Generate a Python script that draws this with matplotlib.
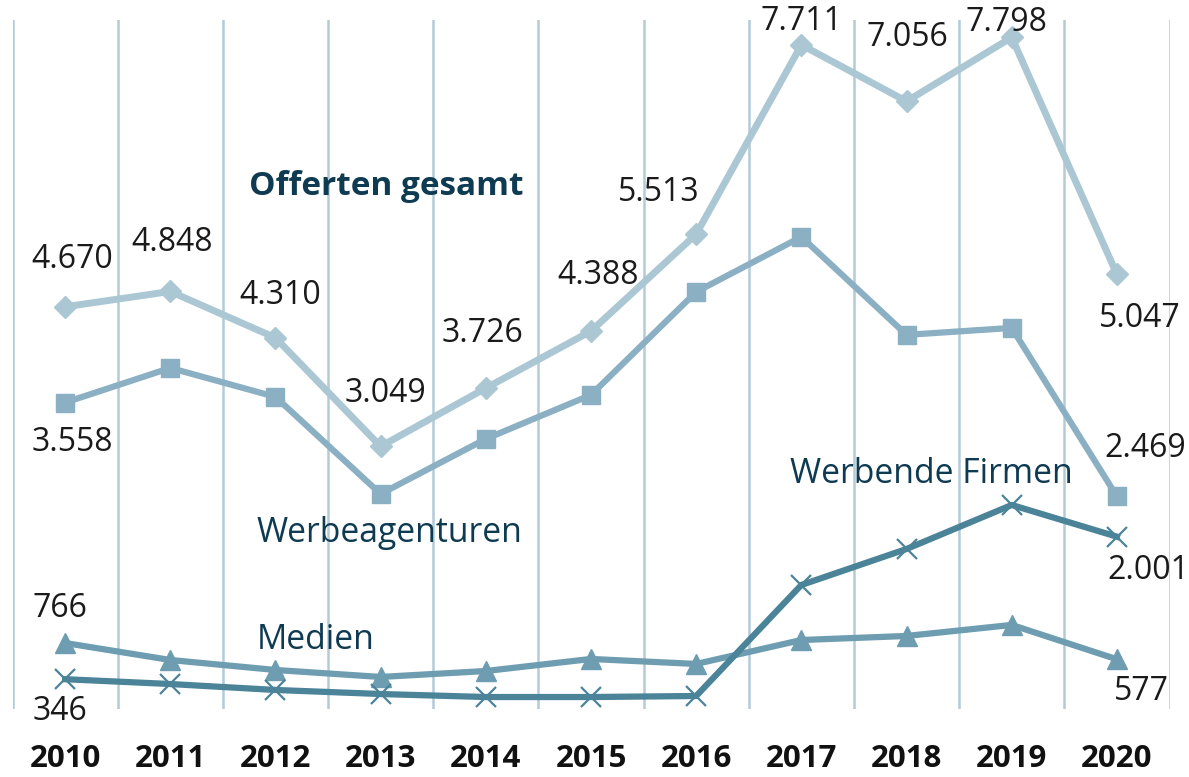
import matplotlib
matplotlib.use("Agg")
import matplotlib.pyplot as plt

years = ["2010", "2011", "2012", "2013", "2014", "2015", "2016", "2017", "2018", "2019", "2020"]
offerten = [4670, 4848, 4310, 3049, 3726, 4388, 5513, 7711, 7056, 7798, 5047]
agenturen = [3558, 3960, 3624, 2497, 3136, 3647, 4843, 5482, 4344, 4425, 2469]
firmen = [346, 290, 221, 174, 139, 139, 151, 1440, 1858, 2369, 2001]
medien = [766, 569, 453, 372, 441, 581, 523, 801, 848, 976, 577]

names = ["Offerten gesamt", "Werbeagenturen", "Werbende Firmen", "Medien"]

plt.rcParams['font.family'] = ['Open Sans', 'DejaVu Sans']

W, H = 1189, 777
fig = plt.figure(figsize=(W / 100, H / 100), dpi=100)
ax = fig.add_axes([12.5 / W, (H - 709) / H, (1169.5 - 12.5) / W, (709 - 20) / H])
x = list(range(len(years)))

c_off = "#abc7d4"
c_ag = "#8cb0c3"
c_fi = "#4b8399"
c_me = "#6e9db1"
c_grid = "#b3cbd7"
c_val = "#1a1a1a"
c_name = "#0e3a52"

for gx in [i - 0.5 for i in range(len(years) + 1)]:
    ax.axvline(gx, color=c_grid, lw=1.8, zorder=0)

ax.plot(x, offerten, color=c_off, lw=5, marker="D", ms=11, zorder=3)
ax.plot(x, agenturen, color=c_ag, lw=4.5, marker="s", ms=13, zorder=3)
ax.plot(x, medien, color=c_me, lw=4.5, marker="^", ms=14, zorder=4)
ax.plot(x, firmen, color=c_fi, lw=4.5, marker="x", ms=15, mew=1.6, zorder=5)

def fmt(v):
    return f"{v:,}".replace(",", ".")

off_offsets = [(7, 47), (2, 49), (5, 42), (5, 53), (-3, 55), (7, 56), (-37, 42),
               (0, 23), (1, 64), (-5, 15), (23, -44)]
for i, (v, off) in enumerate(zip(offerten, off_offsets)):
    ax.annotate(fmt(v), (i, v), xytext=off, textcoords="offset pixels",
                ha="center", va="center", fontsize=23, color=c_val, zorder=6)

others = [(agenturen, 0, (7, -40)), (agenturen, 10, (28, 48)),
          (firmen, 0, (-5, -32)), (firmen, 10, (31, -34)),
          (medien, 0, (-5, 35)), (medien, 10, (25, -32))]
for series, i, off in others:
    ax.annotate(fmt(series[i]), (i, series[i]), xytext=off, textcoords="offset pixels",
                ha="center", va="center", fontsize=23, color=c_val, zorder=6)

ax.text(3.05, 6063, names[0], ha="center", va="center", fontsize=24,
        fontweight="bold", color=c_name)
ax.text(3.08, 2044, names[1], ha="center", va="center", fontsize=24.3, color=c_name)
ax.text(8.24, 2729, names[2], ha="center", va="center", fontsize=24.3, color=c_name)
ax.text(2.38, 801, names[3], ha="center", va="center", fontsize=24.3, color=c_name)

ax.set_xlim(-0.5, len(years) - 0.5)
ax.set_ylim(0, 8000)
ax.set_xticks(x)
ax.set_xticklabels(years, fontsize=22.5, fontweight="bold", color="#111111")
ax.tick_params(axis="x", length=0, pad=25)
ax.set_yticks([])
for s in ax.spines.values():
    s.set_visible(False)
ax.patch.set_alpha(0)

fig.savefig("out.png", dpi=100)
